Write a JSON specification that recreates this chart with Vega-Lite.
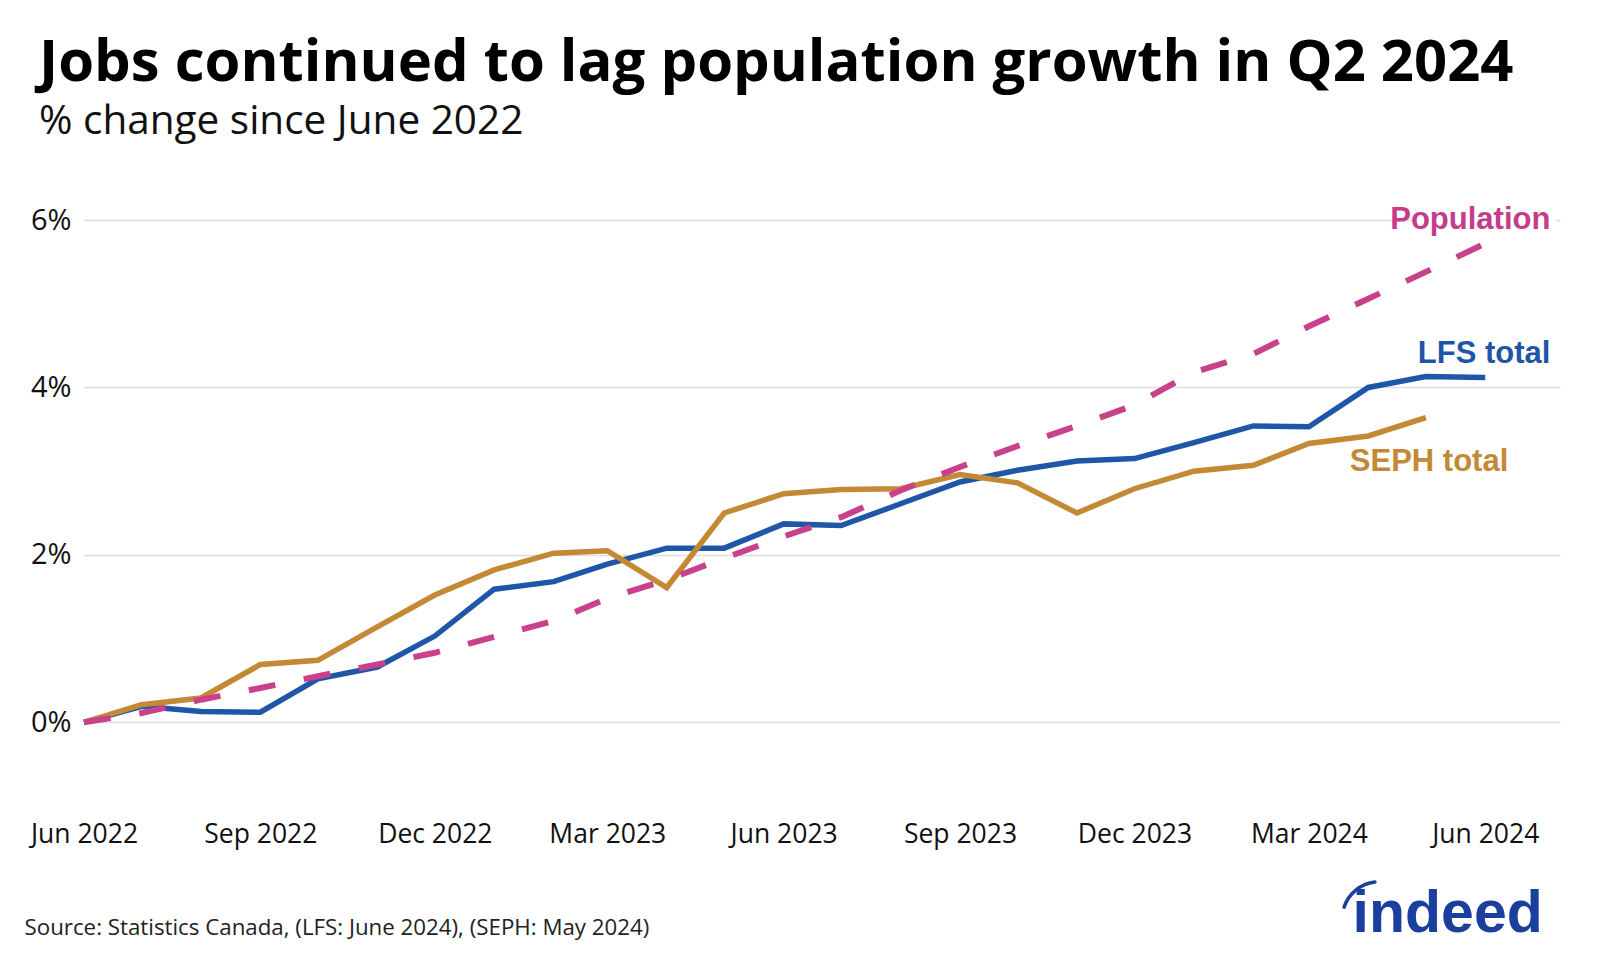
{
  "$schema": "https://vega.github.io/schema/vega-lite/v6.json",
  "width": 1476,
  "height": 586,
  "autosize": {"type": "none"},
  "padding": {"left": 84, "top": 220, "right": 40, "bottom": 154},
  "background": "white",
  "config": {"view": {"stroke": null}, "font": "Open Sans"},
  "title": {
    "text": "Jobs continued to lag population growth in Q2 2024",
    "subtitle": "% change since June 2022",
    "anchor": "start",
    "frame": "group",
    "font": "Open Sans",
    "fontSize": 58,
    "fontWeight": "bold",
    "color": "#000000",
    "subtitleFont": "Open Sans",
    "subtitleFontSize": 40.5,
    "subtitleColor": "#111111",
    "subtitlePadding": 9,
    "offset": 62,
    "dx": -45
  },
  "datasets": {
    "series": [
      {"date": "2022-06-01", "series": "LFS total", "value": 0},
      {"date": "2022-07-01", "series": "LFS total", "value": 0.19},
      {"date": "2022-08-01", "series": "LFS total", "value": 0.13},
      {"date": "2022-09-01", "series": "LFS total", "value": 0.12},
      {"date": "2022-10-01", "series": "LFS total", "value": 0.52},
      {"date": "2022-11-01", "series": "LFS total", "value": 0.66},
      {"date": "2022-12-01", "series": "LFS total", "value": 1.03},
      {"date": "2023-01-01", "series": "LFS total", "value": 1.59},
      {"date": "2023-02-01", "series": "LFS total", "value": 1.68},
      {"date": "2023-03-01", "series": "LFS total", "value": 1.89},
      {"date": "2023-04-01", "series": "LFS total", "value": 2.08},
      {"date": "2023-05-01", "series": "LFS total", "value": 2.08},
      {"date": "2023-06-01", "series": "LFS total", "value": 2.37},
      {"date": "2023-07-01", "series": "LFS total", "value": 2.35},
      {"date": "2023-08-01", "series": "LFS total", "value": 2.61},
      {"date": "2023-09-01", "series": "LFS total", "value": 2.87},
      {"date": "2023-10-01", "series": "LFS total", "value": 3.01},
      {"date": "2023-11-01", "series": "LFS total", "value": 3.12},
      {"date": "2023-12-01", "series": "LFS total", "value": 3.15},
      {"date": "2024-01-01", "series": "LFS total", "value": 3.34},
      {"date": "2024-02-01", "series": "LFS total", "value": 3.54},
      {"date": "2024-03-01", "series": "LFS total", "value": 3.53},
      {"date": "2024-04-01", "series": "LFS total", "value": 4.0},
      {"date": "2024-05-01", "series": "LFS total", "value": 4.13},
      {"date": "2024-06-01", "series": "LFS total", "value": 4.12},
      {"date": "2022-06-01", "series": "SEPH total", "value": 0},
      {"date": "2022-07-01", "series": "SEPH total", "value": 0.21},
      {"date": "2022-08-01", "series": "SEPH total", "value": 0.29},
      {"date": "2022-09-01", "series": "SEPH total", "value": 0.69},
      {"date": "2022-10-01", "series": "SEPH total", "value": 0.74},
      {"date": "2022-11-01", "series": "SEPH total", "value": 1.14},
      {"date": "2022-12-01", "series": "SEPH total", "value": 1.52},
      {"date": "2023-01-01", "series": "SEPH total", "value": 1.82},
      {"date": "2023-02-01", "series": "SEPH total", "value": 2.02},
      {"date": "2023-03-01", "series": "SEPH total", "value": 2.05},
      {"date": "2023-04-01", "series": "SEPH total", "value": 1.61},
      {"date": "2023-05-01", "series": "SEPH total", "value": 2.5},
      {"date": "2023-06-01", "series": "SEPH total", "value": 2.73},
      {"date": "2023-07-01", "series": "SEPH total", "value": 2.78},
      {"date": "2023-08-01", "series": "SEPH total", "value": 2.79},
      {"date": "2023-09-01", "series": "SEPH total", "value": 2.96},
      {"date": "2023-10-01", "series": "SEPH total", "value": 2.86},
      {"date": "2023-11-01", "series": "SEPH total", "value": 2.5},
      {"date": "2023-12-01", "series": "SEPH total", "value": 2.79},
      {"date": "2024-01-01", "series": "SEPH total", "value": 3.0},
      {"date": "2024-02-01", "series": "SEPH total", "value": 3.07},
      {"date": "2024-03-01", "series": "SEPH total", "value": 3.33},
      {"date": "2024-04-01", "series": "SEPH total", "value": 3.42},
      {"date": "2024-05-01", "series": "SEPH total", "value": 3.64},
      {"date": "2022-06-01", "series": "Population", "value": 0},
      {"date": "2022-07-01", "series": "Population", "value": 0.11},
      {"date": "2022-08-01", "series": "Population", "value": 0.27},
      {"date": "2022-09-01", "series": "Population", "value": 0.41},
      {"date": "2022-10-01", "series": "Population", "value": 0.55},
      {"date": "2022-11-01", "series": "Population", "value": 0.69},
      {"date": "2022-12-01", "series": "Population", "value": 0.83},
      {"date": "2023-01-01", "series": "Population", "value": 1.02},
      {"date": "2023-02-01", "series": "Population", "value": 1.21},
      {"date": "2023-03-01", "series": "Population", "value": 1.48},
      {"date": "2023-04-01", "series": "Population", "value": 1.7},
      {"date": "2023-05-01", "series": "Population", "value": 1.96},
      {"date": "2023-06-01", "series": "Population", "value": 2.22},
      {"date": "2023-07-01", "series": "Population", "value": 2.45},
      {"date": "2023-08-01", "series": "Population", "value": 2.77},
      {"date": "2023-09-01", "series": "Population", "value": 3.05},
      {"date": "2023-10-01", "series": "Population", "value": 3.3},
      {"date": "2023-11-01", "series": "Population", "value": 3.54},
      {"date": "2023-12-01", "series": "Population", "value": 3.79},
      {"date": "2024-01-01", "series": "Population", "value": 4.18},
      {"date": "2024-02-01", "series": "Population", "value": 4.4},
      {"date": "2024-03-01", "series": "Population", "value": 4.73},
      {"date": "2024-04-01", "series": "Population", "value": 5.06},
      {"date": "2024-05-01", "series": "Population", "value": 5.38},
      {"date": "2024-06-01", "series": "Population", "value": 5.72}
    ],
    "labels": [
      {"date": "2024-07-05", "value": 5.89, "label": "Population", "series": "Population"},
      {"date": "2024-07-05", "value": 4.29, "label": "LFS total", "series": "LFS total"},
      {"date": "2024-06-13", "value": 3.0, "label": "SEPH total", "series": "SEPH total"}
    ],
    "logo": [
      {"date": "2024-07-01", "value": -2.5, "label": "indeed"}
    ],
    "logoarc": [
      {"date": "2024-04-07", "value": -2.34}
    ],
    "mask": [
      {"date": "2024-04-24", "date2": "2024-07-08", "value": 5.96, "value2": 6.04}
    ]
  },
  "encoding": {
    "x": {
      "field": "date",
      "type": "temporal",
      "scale": {"type": "utc", "domain": [{"year": 2022, "month": 6, "date": 1, "utc": true}, {"year": 2024, "month": 7, "date": 10, "utc": true}]},
      "axis": {
        "values": [
          {"year": 2022, "month": 6, "date": 1, "utc": true},
          {"year": 2022, "month": 9, "date": 1, "utc": true},
          {"year": 2022, "month": 12, "date": 1, "utc": true},
          {"year": 2023, "month": 3, "date": 1, "utc": true},
          {"year": 2023, "month": 6, "date": 1, "utc": true},
          {"year": 2023, "month": 9, "date": 1, "utc": true},
          {"year": 2023, "month": 12, "date": 1, "utc": true},
          {"year": 2024, "month": 3, "date": 1, "utc": true},
          {"year": 2024, "month": 6, "date": 1, "utc": true}
        ],
        "format": "%b %Y",
        "grid": false,
        "ticks": false,
        "domain": false,
        "labelFlush": false,
        "labelOverlap": false,
        "labelFont": "Open Sans",
        "labelFontSize": 26.5,
        "labelColor": "#111111",
        "labelPadding": 15,
        "title": "Source: Statistics Canada, (LFS: June 2024), (SEPH: May 2024)",
        "titleFont": "Open Sans",
        "titleFontSize": 22.3,
        "titleFontWeight": "normal",
        "titleColor": "#222222",
        "titleAnchor": "start",
        "titleAlign": "left",
        "titleBaseline": "alphabetic",
        "titleX": -60,
        "titleY": 128
      }
    },
    "y": {
      "field": "value",
      "type": "quantitative",
      "scale": {"domain": [-1, 6], "nice": false, "zero": false},
      "axis": {
        "values": [0, 2, 4, 6],
        "labelExpr": "datum.value + '%'",
        "grid": true,
        "gridColor": "#DEDEDE",
        "gridWidth": 1.5,
        "ticks": false,
        "domain": false,
        "labelFont": "Open Sans",
        "labelFontSize": 29,
        "labelColor": "#111111",
        "labelPadding": 13,
        "title": null
      }
    }
  },
  "layer": [
    {
      "data": {"name": "series"},
      "transform": [{"filter": "datum.series === 'LFS total'"}],
      "mark": {"type": "line", "color": "#2056A8", "strokeWidth": 5.5, "strokeJoin": "miter"}
    },
    {
      "data": {"name": "series"},
      "transform": [{"filter": "datum.series === 'SEPH total'"}],
      "mark": {"type": "line", "color": "#C38934", "strokeWidth": 5.5, "strokeJoin": "miter"}
    },
    {
      "data": {"name": "series"},
      "transform": [{"filter": "datum.series === 'Population'"}],
      "mark": {"type": "line", "color": "#C8418A", "strokeWidth": 6, "strokeDash": [27, 29]}
    },
    {
      "data": {"name": "mask"},
      "mark": {"type": "rect", "color": "white"},
      "encoding": {
        "x2": {"field": "date2"},
        "y2": {"field": "value2"}
      }
    },
    {
      "data": {"name": "labels"},
      "mark": {"type": "text", "align": "right", "baseline": "alphabetic", "font": "Liberation Sans", "fontWeight": "bold", "fontSize": 31},
      "encoding": {
        "text": {"field": "label"},
        "color": {"field": "series", "type": "nominal", "scale": {"domain": ["Population", "LFS total", "SEPH total"], "range": ["#C63C8A", "#1F55A5", "#C38934"]}, "legend": null}
      }
    },
    {
      "data": {"name": "logo"},
      "mark": {"type": "text", "align": "right", "baseline": "alphabetic", "font": "Liberation Sans", "fontWeight": "bold", "fontSize": 59, "color": "#1B3F9C", "letterSpacing": -1},
      "encoding": {
        "text": {"field": "label"}
      }
    },
    {
      "data": {"name": "logoarc"},
      "mark": {"type": "point", "shape": "M -0.966 -0.297 A 1 1 0 0 1 -0.13 -0.98", "filled": false, "size": 5476, "stroke": "#1B3F9C", "color": "#1B3F9C", "strokeWidth": 3.5, "opacity": 1, "strokeCap": "round"}
    }
  ]
}
